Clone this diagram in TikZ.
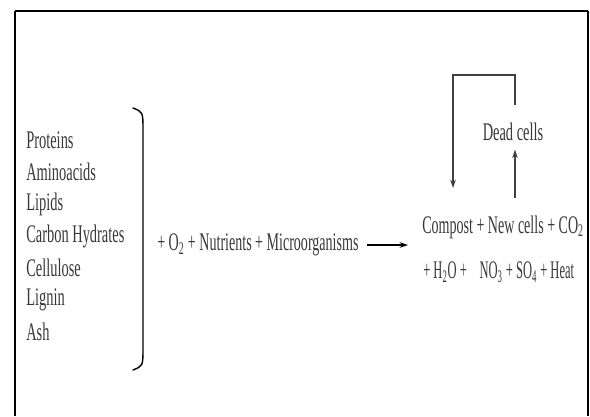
\documentclass[tikz,border=0pt]{standalone}
\usepackage{fontspec}
\setmainfont{Liberation Serif}[FakeStretch=0.57]
\newfontfamily\eqnfont{Liberation Serif}[FakeStretch=0.555]
\newfontfamily\tightfont{Liberation Serif}[FakeStretch=0.495]
\usetikzlibrary{arrows.meta}
\begin{document}
\begin{tikzpicture}[x=0.025cm,y=-0.025cm,>={Stealth[length=6pt,width=4pt]},
  txt/.style={inner sep=0pt,text=black!78,font=\fontsize{18}{20}\selectfont},
  eqn/.style={txt,anchor=west,font=\eqnfont\fontsize{18}{20}\selectfont},
  flow/.style={->,black!75,line width=0.8pt}]
  \useasboundingbox (0,0) rectangle (590,416);
  % the frame (open at the bottom)
  \draw[line width=2pt] (15,416) -- (15,11);
  \draw[line width=1.4pt] (15,11) -- (588,11);
  \draw[line width=0.8pt] (588,11) -- (588,416);
  % the raw materials
  \foreach \name [count=\i] in {Proteins,Aminoacids,Lipids,Carbon Hydrates,Cellulose,Lignin,Ash}
    \node[txt,anchor=west] (comp\i) at (26,108+32*\i) {\name};
  % closing bracket
  \draw[line width=1pt,line cap=round] (133,108) .. controls (143,112) .. (143,130)
        -- (143,348) .. controls (143,366) .. (133,370);
  % what is added
  \node[eqn] (mix) at (157,245)
        {+ O\textsubscript{2} + Nutrients + Microorganisms};
  % the products
  \node[eqn] (prod1) at (422,227)
        {Compost + New cells + CO\textsubscript{2}};
  \node[eqn,font=\tightfont\fontsize{18}{20}\selectfont] (prod2) at (423,272)
        {+ H\textsubscript{2}O +\enspace NO\textsubscript{3} + SO\textsubscript{4} + Heat};
  \node[txt] (dead) at (513,132) {Dead cells};
  \coordinate (react) at (408,245);
  \draw[->,line width=1.2pt,shorten <=6pt] (mix.east) -- (react);
  % recycling loop
  \coordinate (loopR) at (515,105);
  \coordinate (loopTR) at (515,75);
  \coordinate (loopL) at (453,188);
  \coordinate (grow) at (515,198);
  \draw[flow] (loopR) -- (loopTR) -| (loopL);
  \draw[flow,shorten >=6pt] (grow) -- (dead.south -| grow);
\end{tikzpicture}
\end{document}
